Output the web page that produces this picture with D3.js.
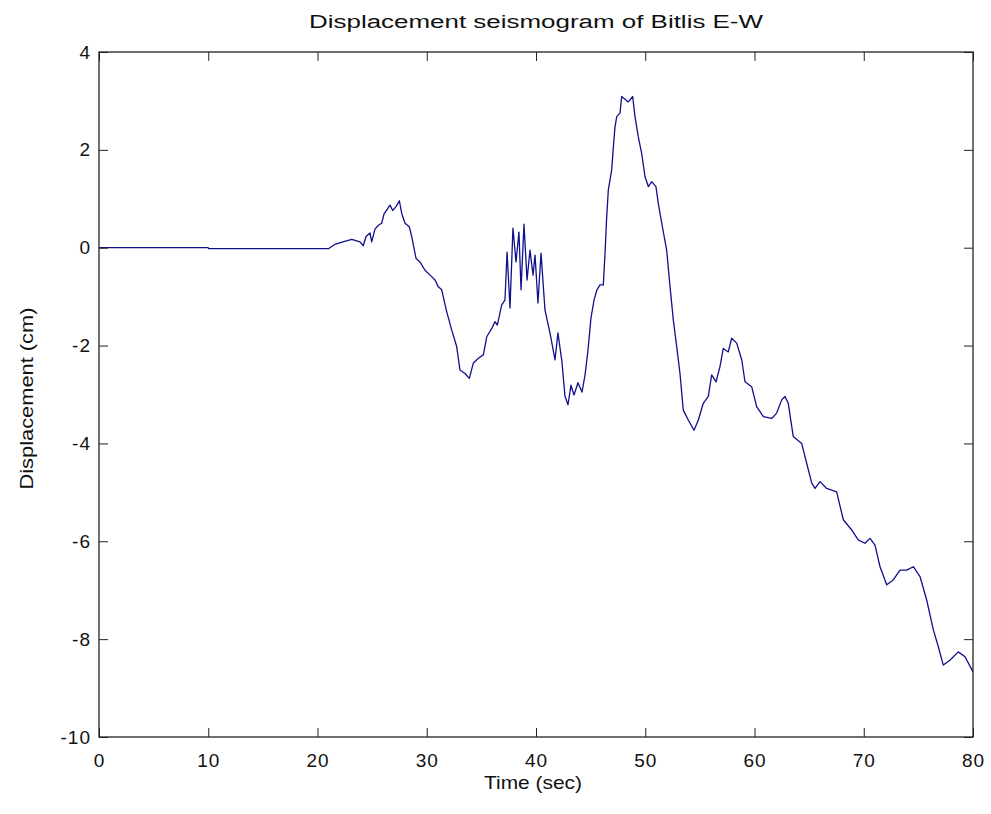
<!DOCTYPE html>
<html>
<head>
<meta charset="utf-8">
<script src="https://cdn.jsdelivr.net/npm/d3@7"></script>
<style>
  html, body { margin: 0; padding: 0; background: #ffffff; }
  svg { display: block; }
  text { font-family: Arial, "Liberation Sans", Helvetica, sans-serif; fill: #111; }
</style>
</head>
<body>
<svg id="chart" width="991" height="814"></svg>
<script>
// ---- data ----
const titleText = "Displacement seismogram of Bitlis E-W";
const xLabel = "Time (sec)";
const yLabel = "Displacement (cm)";
const xTicks = [0, 10, 20, 30, 40, 50, 60, 70, 80];
const yTicks = [-10, -8, -6, -4, -2, 0, 2, 4];

const time = [
  0, 10, 10.05, 21.0, 21.6, 22.33, 23.13, 23.89, 24.19, 24.44, 24.81, 24.96, 25.26, 25.57, 25.88,
  26.09, 26.39, 26.64, 26.88, 27.19, 27.49, 27.71, 28.01, 28.40, 28.62, 29.02, 29.38, 29.84,
  30.30, 30.76, 31.06, 31.37, 31.83, 32.28, 32.74, 33.04, 33.50, 33.90, 34.26, 34.72, 35.18,
  35.49, 35.95, 36.25, 36.46, 36.86, 37.16, 37.35, 37.62, 37.89, 38.17, 38.44, 38.63, 38.90,
  39.18, 39.45, 39.73, 39.91, 40.18, 40.46, 40.82, 41.28, 41.74, 42.01, 42.38, 42.65, 42.93,
  43.20, 43.48, 43.84, 44.21, 44.49, 44.76, 45.03, 45.31, 45.58, 45.86, 46.16, 46.32, 46.47,
  46.62, 46.93, 47.08, 47.23, 47.39, 47.69, 47.84, 48.45, 48.85, 49.06, 49.36, 49.67, 49.98,
  50.28, 50.59, 50.98, 51.19, 51.51, 51.96, 52.27, 52.57, 52.88, 53.18, 53.48, 53.94, 54.46,
  54.86, 55.31, 55.77, 56.08, 56.48, 56.84, 57.14, 57.60, 57.91, 58.37, 58.83, 59.13, 59.74,
  60.20, 60.81, 61.57, 62.03, 62.49, 62.79, 63.09, 63.55, 64.32, 64.78, 65.24, 65.54, 66.00,
  66.61, 67.52, 68.13, 68.90, 69.50, 70.11, 70.57, 71.03, 71.49, 72.10, 72.70, 73.32, 73.93,
  74.54, 75.15, 75.76, 76.37, 76.82, 77.28, 77.89, 78.65, 79.27, 80.00
];
const displacement = [
  0, 0, -0.02, -0.02, 0.07, 0.12, 0.17, 0.12, 0.04, 0.23, 0.30, 0.12, 0.38, 0.46, 0.50,
  0.69, 0.79, 0.87, 0.76, 0.84, 0.96, 0.70, 0.50, 0.43, 0.23, -0.22, -0.29, -0.46,
  -0.56, -0.66, -0.80, -0.86, -1.31, -1.68, -2.02, -2.50, -2.57, -2.67, -2.36, -2.26, -2.19,
  -1.82, -1.65, -1.51, -1.58, -1.17, -1.07, -0.09, -1.23, 0.40, -0.29, 0.32, -0.86, 0.48,
  -0.66, -0.05, -0.56, -0.15, -1.13, -0.11, -1.27, -1.74, -2.29, -1.74, -2.34, -3.03, -3.21,
  -2.81, -3.01, -2.76, -2.95, -2.60, -2.09, -1.44, -1.07, -0.86, -0.76, -0.76, -0.11, 0.63,
  1.18, 1.59, 2.06, 2.47, 2.68, 2.75, 3.09, 2.98, 3.09, 2.68, 2.27, 1.93, 1.45,
  1.25, 1.35, 1.25, 0.91, 0.50, -0.05, -0.80, -1.48, -2.02, -2.57, -3.32, -3.52, -3.73,
  -3.52, -3.18, -3.04, -2.60, -2.74, -2.43, -2.06, -2.13, -1.85, -1.95, -2.29, -2.74, -2.84,
  -3.25, -3.45, -3.49, -3.38, -3.11, -3.04, -3.18, -3.86, -4.00, -4.41, -4.81, -4.92, -4.78,
  -4.92, -4.99, -5.56, -5.77, -5.97, -6.04, -5.94, -6.08, -6.52, -6.89, -6.79, -6.59, -6.59,
  -6.52, -6.72, -7.20, -7.81, -8.15, -8.53, -8.43, -8.26, -8.36, -8.67
];

// ---- layout ----
const W = 991, H = 814;
const plot = { left: 99, right: 973, top: 52, bottom: 737 };
const tickLen = 9;

const svg = d3.select("#chart");
svg.append("rect").attr("width", W).attr("height", H).attr("fill", "#ffffff");

const x = d3.scaleLinear().domain([0, 80]).range([plot.left, plot.right]);
const y = d3.scaleLinear().domain([-10, 4]).range([plot.bottom, plot.top]);

const fmt = d => String(d);

// data line
const line = d3.line().x((d, i) => x(time[i])).y(d => y(d));
svg.append("path")
  .datum(displacement)
  .attr("d", line)
  .attr("fill", "none")
  .attr("stroke", "#10108c")
  .attr("stroke-width", 1.3)
  .attr("stroke-linejoin", "round");

// axes (inward ticks, MATLAB-style box)
function styleAxis(g) {
  g.select(".domain").remove();
  g.selectAll(".tick line").attr("stroke", "#222").attr("stroke-width", 1);
  g.selectAll(".tick text")
    .attr("fill", "#111")
    .style("font-family", "Arial, 'Liberation Sans', sans-serif")
    .style("font-size", "19px")
    .style("letter-spacing", "1px");
}

svg.append("g")
  .attr("transform", `translate(0,${plot.bottom})`)
  .call(d3.axisBottom(x).tickValues(xTicks).tickFormat(fmt)
    .tickSizeInner(-tickLen).tickSizeOuter(0).tickPadding(17))
  .call(styleAxis);

svg.append("g")
  .attr("transform", `translate(0,${plot.top})`)
  .call(d3.axisTop(x).tickValues(xTicks).tickFormat("")
    .tickSizeInner(-tickLen).tickSizeOuter(0))
  .call(styleAxis);

svg.append("g")
  .attr("transform", `translate(${plot.left},0)`)
  .call(d3.axisLeft(y).tickValues(yTicks).tickFormat(fmt)
    .tickSizeInner(-tickLen).tickSizeOuter(0).tickPadding(8))
  .call(styleAxis);

svg.append("g")
  .attr("transform", `translate(${plot.right},0)`)
  .call(d3.axisRight(y).tickValues(yTicks).tickFormat("")
    .tickSizeInner(-tickLen).tickSizeOuter(0))
  .call(styleAxis);

// box
svg.append("rect")
  .attr("x", plot.left).attr("y", plot.top)
  .attr("width", plot.right - plot.left).attr("height", plot.bottom - plot.top)
  .attr("fill", "none").attr("stroke", "#222").attr("stroke-width", 1.3);

// title
svg.append("text")
  .attr("x", (plot.left + plot.right) / 2).attr("y", 28)
  .attr("text-anchor", "middle")
  .attr("textLength", 454).attr("lengthAdjust", "spacingAndGlyphs")
  .style("font-size", "18px")
  .text(titleText);

// x label
svg.append("text")
  .attr("x", 533).attr("y", 789)
  .attr("text-anchor", "middle")
  .attr("textLength", 98).attr("lengthAdjust", "spacingAndGlyphs")
  .style("font-size", "19px")
  .text(xLabel);

// y label
svg.append("text")
  .attr("transform", `translate(33,${(plot.top + plot.bottom) / 2 + 4}) rotate(-90)`)
  .attr("text-anchor", "middle")
  .attr("textLength", 182).attr("lengthAdjust", "spacingAndGlyphs")
  .style("font-size", "19px")
  .text(yLabel);
</script>
</body>
</html>
